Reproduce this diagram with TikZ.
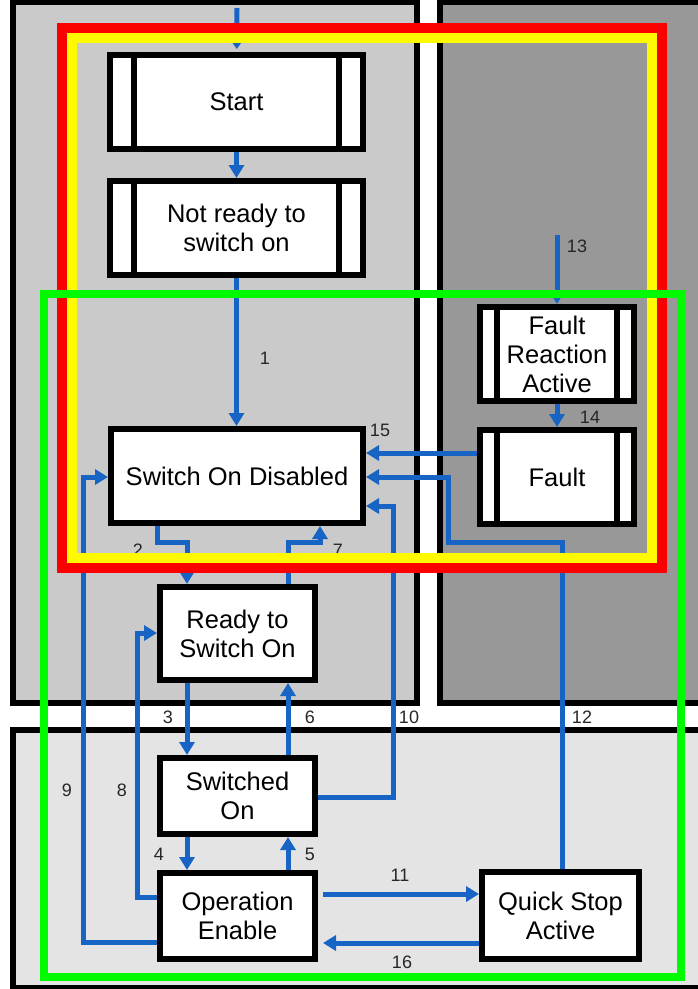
\documentclass[tikz,border=0pt]{standalone}
\usepackage{fontspec}
\setmainfont{Liberation Sans}
\usetikzlibrary{arrows.meta}

\definecolor{flowblue}{RGB}{24,100,196}
\definecolor{panellight}{RGB}{202,202,202}
\definecolor{paneldark}{RGB}{152,152,152}
\definecolor{panelpale}{RGB}{228,228,228}
\definecolor{framegreen}{RGB}{0,250,0}
\definecolor{frameyellow}{RGB}{255,250,0}
\definecolor{framered}{RGB}{250,0,0}

\tikzset{
  panel/.style={draw=black, line width=6pt},
  stbox/.style={draw=black, fill=white, line width=6pt, align=center,
    font=\fontsize{25.5}{29}\selectfont},
  stbar/.style={path picture={
    \draw[line width=6pt]
      ([xshift=#1]path picture bounding box.north west) -- ([xshift=#1]path picture bounding box.south west)
      ([xshift=-#1]path picture bounding box.north east) -- ([xshift=-#1]path picture bounding box.south east);}},
  flow/.style={draw=flowblue, line width=5pt, -{Triangle[width=15pt,length=13pt]}},
  num/.style={font=\fontsize{18}{20}\selectfont, text=black!85},
}

\begin{document}
\begin{tikzpicture}[x=1pt,y=-1pt]
  \useasboundingbox[fill=white] (0,0) rectangle (698,989);

  % background panels
  \filldraw[panel, fill=panellight] (13,2) rectangle (417,703);
  \filldraw[panel, fill=paneldark] (440,2) rectangle (720,703);
  \filldraw[panel, fill=panelpale] (13,730) rectangle (720,988);

  % states
  \node[stbox, stbar=24pt, minimum width=253pt, minimum height=94pt] (start) at (236.5,102) {Start};
  \node[stbox, stbar=24pt, minimum width=253pt, minimum height=94pt] (notready) at (236.5,228) {Not ready to\\switch on};
  \node[stbox, minimum width=252pt, minimum height=94pt] (sod) at (237,476) {Switch On Disabled};
  \node[stbox, minimum width=155pt, minimum height=93pt] (ready) at (237.5,633.5) {Ready to\\Switch On};
  \node[stbox, minimum width=155pt, minimum height=76pt] (swon) at (237.5,796) {Switched\\On};
  \node[stbox, minimum width=155pt, minimum height=86pt] (opena) at (237.5,916) {Operation\\Enable};
  \node[stbox, minimum width=157pt, minimum height=87pt] (qsa) at (560.5,915.5) {Quick Stop\\Active};
  \node[stbox, stbar=17pt, minimum width=154pt, minimum height=94pt] (fra) at (557,354) {Fault\\Reaction\\Active};
  \node[stbox, stbar=17pt, minimum width=154pt, minimum height=94pt] (fault) at (557,477) {Fault};

  \coordinate (in0) at (237,8);
  \coordinate (in13) at (557,235);

  % transitions
  \draw[draw=flowblue, line width=5pt, -{Triangle[width=8pt,length=6pt]}, shorten >=3pt] (in0) -- (start);
  \draw[flow] (start) -- (notready);
  \draw[flow] (notready.south) -- (notready.south |- sod.north);
  \draw[flow] (sod.south -| 157.5,0) |- (187,542) -- (ready.north -| 187,0);
  \draw[flow] (ready.north -| 288,0) |- (320,542) -- (sod.south -| 320,0);
  \draw[flow] (ready.south -| 187,0) -- (swon.north -| 187,0);
  \draw[flow] (swon.north -| 288,0) -- (ready.south -| 288,0);
  \draw[flow] (swon.south -| 187,0) -- (opena.north -| 187,0);
  \draw[flow] (opena.north -| 288,0) -- (swon.south -| 288,0);
  \draw[flow] (opena.west |- 0,897) -| (137,633) -- (ready.west |- 0,633);
  \draw[flow] (opena.west |- 0,942) -| (83,477) -- (sod.west |- 0,477);
  \draw[flow] (swon.east |- 0,797) -| (393,506) -- (sod.east |- 0,506);
  \draw[flow] ([xshift=5pt]opena.east |- 0,894) -- (qsa.west |- 0,894);
  \draw[flow] (qsa.north -| 562,0) |- (448,542) |- (sod.east |- 0,477);
  \draw[flow] (in13) -- (fra.north -| in13);
  \draw[flow] (fra) -- (fault);
  \draw[flow] (fault.west |- 0,453) -- (sod.east |- 0,453);
  \draw[flow] (qsa.west |- 0,943) -- ([xshift=5pt]opena.east |- 0,943);

  % numbers
  \node[num] (n1) at (265,358) {1};
  \node[num] (n2) at (138,550) {2};
  \node[num] (n3) at (168,717) {3};
  \node[num] (n4) at (159,854) {4};
  \node[num] (n5) at (310,854) {5};
  \node[num] (n6) at (310,717) {6};
  \node[num] (n7) at (338,550) {7};
  \node[num] (n8) at (122,790) {8};
  \node[num] (n9) at (67,790) {9};
  \node[num] (n10) at (409,717) {10};
  \node[num] (n11) at (400,875) {11};
  \node[num] (n12) at (582,717) {12};
  \node[num] (n13) at (577,246) {13};
  \node[num] (n14) at (590,417) {14};
  \node[num] (n15) at (380,430) {15};
  \node[num] (n16) at (402,962) {16};

  % frames
  \draw[framered, line width=10pt] (62,28) rectangle (662,568);
  \draw[frameyellow, line width=10pt] (72,38) rectangle (652,558);
  \draw[framegreen, line width=8pt] (44,294) rectangle (681,977);
\end{tikzpicture}
\end{document}
